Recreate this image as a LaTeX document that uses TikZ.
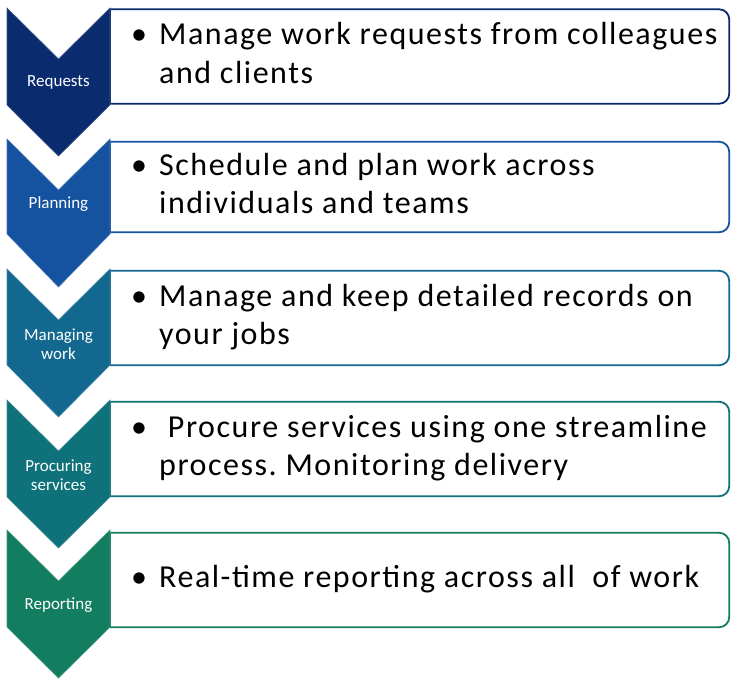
\documentclass[tikz,border=0pt]{standalone}
\usepackage{fontspec}
\setmainfont{Carlito}
\newfontfamily\bodyfont[LetterSpace=4.8]{Carlito}
\usepackage{tikz}
\usetikzlibrary{positioning, calc}
\definecolor{stepnavy}{HTML}{0A2C6E}
\definecolor{stepblue}{HTML}{1552A0}
\definecolor{stepsteel}{HTML}{13688F}
\definecolor{stepteal}{HTML}{0F7179}
\definecolor{stepgreen}{HTML}{137D5F}
\frenchspacing

\begin{document}
\begin{tikzpicture}[
    x=1pt, y=-1pt,
    chevron/.style={fill=#1, draw=#1!80!white, line width=0.6pt},
    panel/.style={rectangle, minimum width=619pt, minimum height=#1, inner sep=0pt},
    frame/.style={draw=#1, line width=1.8pt, rounded corners=10pt},
    tag/.style={font=\fontsize{17}{19}\selectfont, color=white, align=center},
    item/.style={anchor=west, inner sep=0pt, font=\bodyfont\fontsize{32}{38.5}\selectfont}
]
\useasboundingbox (0,0) rectangle (739,685);

% Requests
\node[panel=94pt] (req) at (419.5,56.5) {};
\draw[frame=stepnavy] (req.north west) -- (req.north east) -- (req.south east) -- (req.south west);
\draw[stepnavy, line width=1.8pt] (req.south west) -- (req.north west);
\fill[chevron=stepnavy] (7,8) -- (58.5,59) -- (110,8) -- (110,105) -- (58.5,156) -- (7,105) -- cycle;
\node[tag] (reqtag) at (58.5,82) {Requests};
\node[item] (reqtxt) at (131,56.5) {\begin{tabular}{@{}p{28pt}@{}l@{}}\textbullet & Manage work requests from colleagues\\ & and clients\end{tabular}};

% Planning
\node[panel=90pt] (plan) at (419.5,187) {};
\draw[frame=stepblue] (plan.north west) -- (plan.north east) -- (plan.south east) -- (plan.south west);
\draw[stepblue, line width=1.8pt] (plan.south west) -- (plan.north west);
\fill[chevron=stepblue] (7,139) -- (58.5,190) -- (110,139) -- (110,234) -- (58.5,287) -- (7,234) -- cycle;
\node[tag] (plantag) at (58.5,204) {Planning};
\node[item] (plantxt) at (131,187) {\begin{tabular}{@{}p{28pt}@{}l@{}}\textbullet & Schedule and plan work across\\ & individuals and teams\end{tabular}};

% Managing work
\node[panel=94pt] (work) at (419.5,318) {};
\draw[frame=stepsteel] (work.north west) -- (work.north east) -- (work.south east) -- (work.south west);
\draw[stepsteel, line width=1.8pt] (work.south west) -- (work.north west);
\fill[chevron=stepsteel] (7,269) -- (58.5,320) -- (110,269) -- (110,365) -- (58.5,417) -- (7,365) -- cycle;
\node[tag] (worktag) at (58.5,344) {Managing\\work};
\node[item] (worktxt) at (131,318) {\begin{tabular}{@{}p{28pt}@{}l@{}}\textbullet & Manage and keep detailed records on\\ & your jobs\end{tabular}};

% Procuring services
\node[panel=94pt] (proc) at (419.5,449) {};
\draw[frame=stepteal] (proc.north west) -- (proc.north east) -- (proc.south east) -- (proc.south west);
\draw[stepteal, line width=1.8pt] (proc.south west) -- (proc.north west);
\fill[chevron=stepteal] (7,400) -- (58.5,451) -- (110,400) -- (110,497) -- (58.5,548) -- (7,497) -- cycle;
\node[tag] (proctag) at (58.5,475) {Procuring\\services};
\node[item] (proctxt) at (131,449) {\begin{tabular}{@{}p{28pt}@{}l@{}}\textbullet & \ Procure services using one streamline\\ & process. Monitoring delivery\end{tabular}};

% Reporting
\node[panel=94pt] (rep) at (419.5,580) {};
\draw[frame=stepgreen] (rep.north west) -- (rep.north east) -- (rep.south east) -- (rep.south west);
\draw[stepgreen, line width=1.8pt] (rep.south west) -- (rep.north west);
\fill[chevron=stepgreen] (7,530) -- (58.5,581) -- (110,530) -- (110,627) -- (58.5,678) -- (7,627) -- cycle;
\node[tag] (reptag) at (58.5,605) {Reporting};
\node[item] (reptxt) at (131,580) {\begin{tabular}{@{}p{28pt}@{}l@{}}\textbullet & Real-time reporting across all\ \ of work\end{tabular}};

\end{tikzpicture}
\end{document}
